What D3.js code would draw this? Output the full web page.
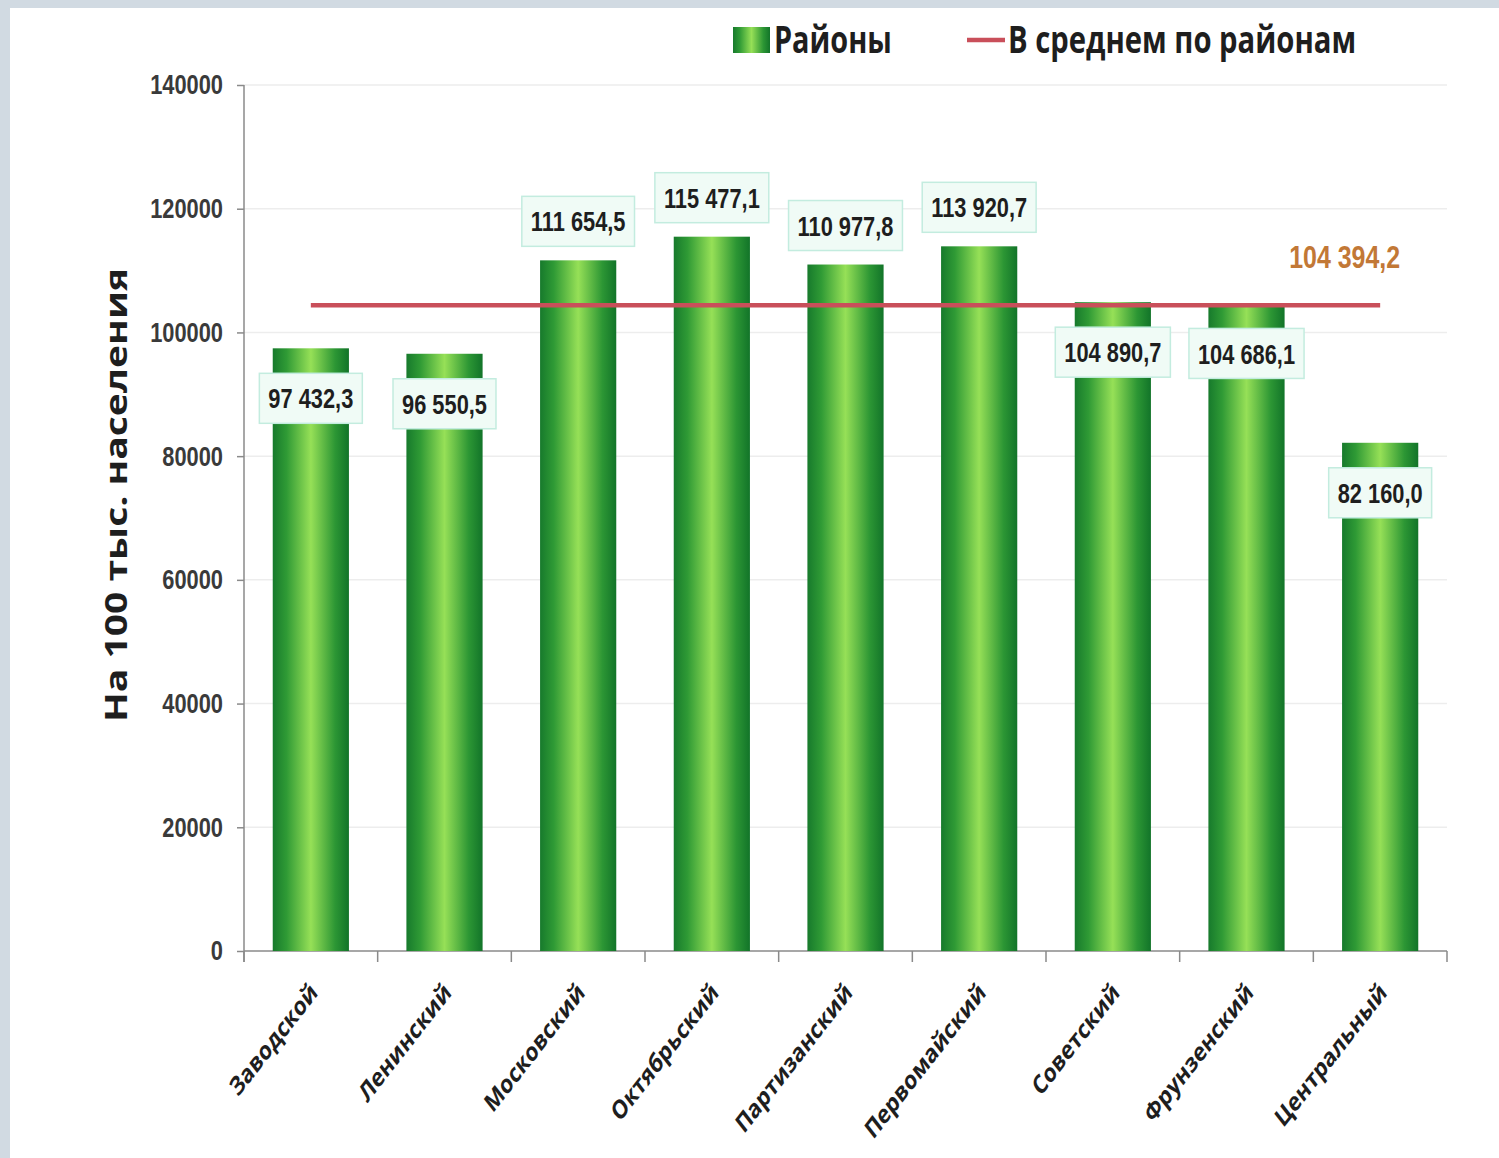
<!DOCTYPE html>
<html>
<head>
<meta charset="utf-8">
<script src="https://cdn.jsdelivr.net/npm/d3@7"></script>
<style>
  body { margin: 0; background: #fff; }
  svg { display: block; }
</style>
</head>
<body>
<svg id="chart" width="1499" height="1158"></svg>
<script>
// ---- data ----
const districts = ["Заводской", "Ленинский", "Московский", "Октябрьский", "Партизанский",
                   "Первомайский", "Советский", "Фрунзенский", "Центральный"];
const values = [97432.3, 96550.5, 111654.5, 115477.1, 110977.8, 113920.7, 104890.7, 104686.1, 82160.0];
const averageValue = 104394.2;
const yTickValues = [0, 20000, 40000, 60000, 80000, 100000, 120000, 140000];
const legendLabels = ["Районы", "В среднем по районам"];
const axisTitle = "На  100 тыс. населения";

// ---- layout ----
const W = 1499, H = 1158;
const plot = { left: 244, right: 1447, top: 85, bottom: 951 };
const SQ = 0.78;              // horizontal text compression used throughout
const numFont = "'Liberation Sans', Arial, sans-serif";
const textFont = "'Open Sans', 'Noto Sans', sans-serif";

const ru = d3.formatLocale({ decimal: ",", thousands: " ", grouping: [3], currency: ["", ""] });
const fmt = ru.format(",.1f");

const svg = d3.select("#chart");

// page background and frame
svg.append("rect").attr("width", W).attr("height", H).attr("fill", "#fff");
svg.append("rect").attr("x", 0).attr("y", 0).attr("width", W).attr("height", 8).attr("fill", "#d1dae2");
svg.append("rect").attr("x", 0).attr("y", 0).attr("width", 10).attr("height", H).attr("fill", "#d1dae2");

// cylinder-like horizontal gradient for bars
const defs = svg.append("defs");
const grad = defs.append("linearGradient").attr("id", "barGrad")
  .attr("x1", 0).attr("x2", 1).attr("y1", 0).attr("y2", 0);
[[0, "#177a2c"], [0.18, "#2f9a35"], [0.5, "#96e057"], [0.82, "#2c9634"], [1, "#127429"]]
  .forEach(([o, c]) => grad.append("stop").attr("offset", o).attr("stop-color", c));

// ---- scales ----
const x = d3.scaleBand().domain(districts).range([plot.left, plot.right])
  .paddingInner(0.43).paddingOuter(0.215);
const y = d3.scaleLinear().domain([0, 140000]).range([plot.bottom, plot.top]);

// faint horizontal gridlines
svg.append("g").selectAll("line").data(yTickValues.filter(d => d > 0)).join("line")
  .attr("x1", plot.left).attr("x2", plot.right)
  .attr("y1", d => y(d)).attr("y2", d => y(d))
  .attr("stroke", "#ededed").attr("stroke-width", 1.5);

// ---- y axis ----
const yAxis = svg.append("g").attr("transform", `translate(${plot.left},0)`)
  .call(d3.axisLeft(y).tickValues(yTickValues).tickSize(7).tickSizeOuter(0).tickPadding(14)
    .tickFormat(d3.format("d")));
yAxis.select(".domain").attr("stroke", "#8a8a8a").attr("stroke-width", 1.5)
  .attr("d", `M0,${plot.top}V${plot.bottom + 11}`);
yAxis.selectAll(".tick line").attr("stroke", "#8a8a8a").attr("stroke-width", 1.5);
yAxis.selectAll(".tick text")
  .attr("font-family", numFont).attr("font-weight", "bold").attr("font-size", 28)
  .attr("fill", "#3a3a3a")
  .each(function () {
    const t = d3.select(this);
    const xx = +t.attr("x");
    t.attr("x", 0).attr("transform", `translate(${xx},0) scale(${SQ},1)`);
  });

// y axis title
svg.append("text")
  .attr("transform", `translate(127,495) scale(${SQ},1) rotate(-90)`)
  .attr("text-anchor", "middle")
  .attr("font-family", textFont).attr("font-weight", "bold").attr("font-size", 39)
  .attr("fill", "#1e1e1e")
  .text(axisTitle);

// ---- x axis ----
const xAxisG = svg.append("g");
xAxisG.append("line")
  .attr("x1", plot.left).attr("x2", plot.right)
  .attr("y1", plot.bottom).attr("y2", plot.bottom)
  .attr("stroke", "#8a8a8a").attr("stroke-width", 1.5);
xAxisG.selectAll("line.tk").data(d3.range(districts.length + 1)).join("line").attr("class", "tk")
  .attr("x1", i => plot.left + i * x.step()).attr("x2", i => plot.left + i * x.step())
  .attr("y1", plot.bottom).attr("y2", plot.bottom + 11)
  .attr("stroke", "#8a8a8a").attr("stroke-width", 1.5);
xAxisG.selectAll("text").data(districts).join("text")
  .attr("transform", d => `translate(${x(d) + x.bandwidth() / 2 + 8},${plot.bottom + 43}) scale(${SQ},1) rotate(-45)`)
  .attr("text-anchor", "end")
  .attr("font-family", textFont).attr("font-weight", "bold").attr("font-size", 26)
  .attr("fill", "#1e1e1e")
  .text(d => d);

// ---- bars ----
svg.append("g").selectAll("rect").data(districts).join("rect")
  .attr("x", d => x(d)).attr("width", x.bandwidth())
  .attr("y", (d, i) => y(values[i])).attr("height", (d, i) => y(0) - y(values[i]))
  .attr("fill", "url(#barGrad)");

// ---- average line ----
const lineX0 = x(districts[0]) + x.bandwidth() / 2;
const lineX1 = x(districts[districts.length - 1]) + x.bandwidth() / 2;
svg.append("line")
  .attr("x1", lineX0).attr("x2", lineX1)
  .attr("y1", y(averageValue)).attr("y2", y(averageValue))
  .attr("stroke", "#c94f5a").attr("stroke-width", 4.5);

svg.append("text")
  .attr("transform", `translate(${lineX1 + 20},${y(averageValue) - 37}) scale(${SQ},1)`)
  .attr("text-anchor", "end")
  .attr("font-family", numFont).attr("font-weight", "bold").attr("font-size", 32)
  .attr("fill", "#c27836")
  .text(fmt(averageValue));

// ---- value labels ----
// bars clearly above the average carry their label on top, the rest inside
const labels = svg.append("g").selectAll("g").data(districts).join("g")
  .attr("transform", (d, i) => {
    const v = values[i];
    const top = y(v);
    const cy = (v - averageValue > 3000) ? top - 39 : top + 50;
    return `translate(${x(d) + x.bandwidth() / 2},${cy})`;
  });
const boxes = labels.append("rect")
  .attr("fill", "#f0fbf6").attr("stroke", "#c3ecdf").attr("stroke-width", 1.5);
const texts = labels.append("text")
  .attr("text-anchor", "middle").attr("dy", "0.36em")
  .attr("transform", `scale(${SQ},1)`)
  .attr("font-family", numFont).attr("font-weight", "bold").attr("font-size", 28)
  .attr("fill", "#1e1e1e")
  .text((d, i) => fmt(values[i]));
texts.each(function (d, i) {
  const w = this.getComputedTextLength() * SQ + 18;
  d3.select(boxes.nodes()[i])
    .attr("x", -w / 2).attr("y", -25).attr("width", w).attr("height", 50);
});

// ---- legend ----
const legend = svg.append("g");
legend.append("rect").attr("x", 733).attr("y", 27).attr("width", 37).attr("height", 26)
  .attr("fill", "url(#barGrad)");
legend.append("text")
  .attr("transform", `translate(774,53) scale(${SQ},1)`)
  .attr("font-family", textFont).attr("font-weight", "bold").attr("font-size", 37)
  .attr("fill", "#1e1e1e")
  .text(legendLabels[0]);
legend.append("line").attr("x1", 967).attr("x2", 1005).attr("y1", 40).attr("y2", 40)
  .attr("stroke", "#c94f5a").attr("stroke-width", 4.5);
legend.append("text")
  .attr("transform", `translate(1008,53) scale(${SQ},1)`)
  .attr("font-family", textFont).attr("font-weight", "bold").attr("font-size", 37.5)
  .attr("fill", "#1e1e1e")
  .text(legendLabels[1]);
</script>
</body>
</html>
